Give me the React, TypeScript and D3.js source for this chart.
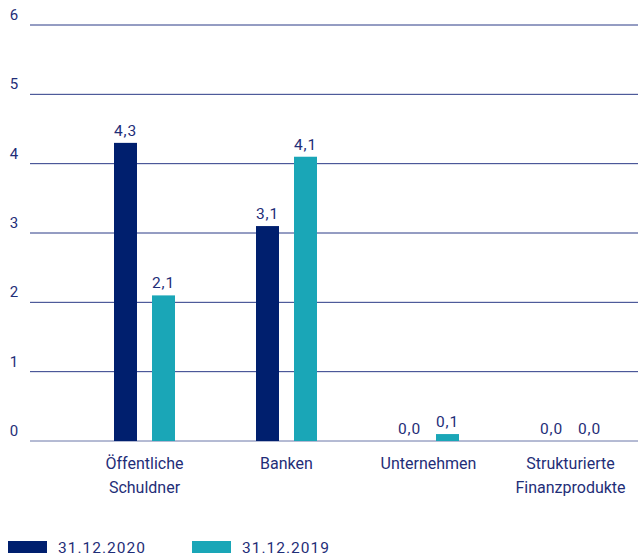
import React from "react";
import * as d3 from "d3";

const categories = [["Öffentliche", "Schuldner"], ["Banken"], ["Unternehmen"], ["Strukturierte", "Finanzprodukte"]];
const seriesNames = ["31.12.2020", "31.12.2019"];
const values2020 = [4.3, 3.1, 0.0, 0.0];
const values2019 = [2.1, 4.1, 0.1, 0.0];
const yTicks = [0, 1, 2, 3, 4, 5, 6];
const colors = ["#001f6e", "#1aa6b7"];

const W = 638, H = 555;
const FONT = "Roboto, sans-serif";
const TEXT = "#1f2e78";

export default function App() {
  const y = d3.scaleLinear().domain([0, 6]).range([441, 25]);
  const x = d3.scaleBand<number>().domain(d3.range(categories.length)).range([73.5, 641.5]).padding(0);
  const inner = d3.scaleBand<number>().domain([0, 1]).range([-30.5, 30.5]).paddingInner(15 / 38);
  const series = [values2020, values2019];
  const fmt = (v: number) => v.toFixed(1).replace(".", ",");
  return (
    <svg width={W} height={H} style={{ position: "absolute", left: 0, top: 0 }} fontFamily={FONT}>
      {yTicks.map((t) => (
        <g key={t}>
          <line x1={30} x2={638} y1={y(t)} y2={y(t)} stroke={t === 0 ? "#6a76a8" : "#2b3a86"} strokeWidth={1} />
          <text x={14} y={y(t) - 5} fontSize={15} fill={TEXT} textAnchor="middle">{t}</text>
        </g>
      ))}
      {categories.map((c, i) => {
        const cx = (x(i) as number) + x.bandwidth() / 2;
        return (
          <g key={i}>
            {series.map((s, j) => {
              const bx = cx + (inner(j) as number);
              const v = s[i];
              return (
                <g key={j}>
                  {v > 0 && <rect x={bx} width={inner.bandwidth()} y={y(v)} height={y(0) - y(v)} fill={colors[j]} />}
                  <text x={bx + inner.bandwidth() / 2} y={y(v) - 7} fontSize={15.5} fill={TEXT} textAnchor="middle" letterSpacing={0.9}>{fmt(v)}</text>
                </g>
              );
            })}
            {c.map((line, k) => (
              <text key={k} x={cx} y={469 + k * 24} fontSize={16} fill={TEXT} textAnchor="middle">{line}</text>
            ))}
          </g>
        );
      })}
      {seriesNames.map((n, j) => (
        <g key={n}>
          <rect x={8 + j * 184} y={541} width={39} height={12} fill={colors[j]} />
          <text x={58 + j * 184} y={553} fontSize={15.5} fill={TEXT} letterSpacing={1}>{n}</text>
        </g>
      ))}
    </svg>
  );
}
